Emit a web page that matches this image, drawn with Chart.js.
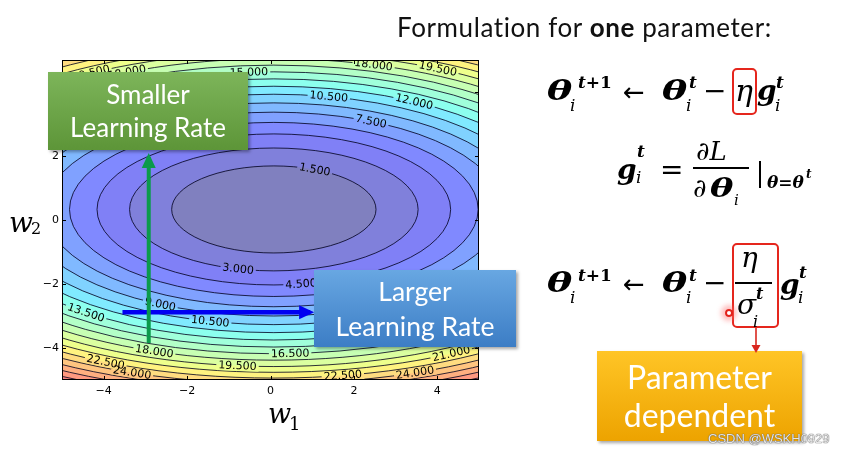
<!DOCTYPE html>
<html>
<head>
<meta charset="utf-8">
<script src="https://cdn.jsdelivr.net/npm/chart.js@4.4.0/dist/chart.umd.min.js"></script>
<style>
body { margin: 0; background: #fff; }
#wrap { position: relative; width: 845px; height: 454px; overflow: hidden; font-family: Lato, "Open Sans", sans-serif; }
canvas { position: absolute; left: 0; top: 0; }
#titulo { position: absolute; left: 397px; top: 14px; font-size: 26px; letter-spacing: 0.6px; line-height: 1; color: #111; white-space: nowrap; }
.box { position: absolute; color: #fff; display: flex; flex-direction: column; align-items: center; justify-content: center; box-shadow: 2px 2px 3px rgba(0,0,0,0.35); white-space: nowrap; }
#small { left: 48px; top: 72px; width: 200px; height: 78px; font-size: 26px; line-height: 33px; background: linear-gradient(#7db55a, #5d9538); }
#large { left: 314px; top: 270px; width: 202px; height: 77px; font-size: 26.5px; line-height: 35px; background: linear-gradient(#68a7e2, #3c7dc5); }
#param { left: 597px; top: 351px; width: 205px; height: 90px; font-size: 32px; line-height: 38px; background: linear-gradient(#ffc526, #eda300); }
.m { position: absolute; line-height: 1; white-space: nowrap; color: #000; font-family: "DejaVu Serif", serif; }
.bi { font-weight: bold; font-style: italic; }
.it { font-style: italic; }
.sy { font-family: "DejaVu Sans", sans-serif; }
.wide { transform: scaleX(1.35); transform-origin: left center; }
.rbox { position: absolute; border: 2px solid #e5261d; border-radius: 5px; box-sizing: border-box; }
.bar { position: absolute; background: #000; }
#punto { position: absolute; left: 725px; top: 309px; width: 8px; height: 8px; border: 2px solid #e3221b; border-radius: 50%; box-sizing: border-box; box-shadow: 0 0 5px 4px rgba(255,110,110,0.45); }
#marca { position: absolute; left: 708px; top: 431px; font-family: "Liberation Sans", sans-serif; font-size: 13px; line-height: 15px; color: #e6e6e6; text-shadow: 0 0 1px #555, 0 0 1px #555; white-space: nowrap; }
</style>
</head>
<body>
<div id="wrap">
  <canvas id="grafica" width="845" height="454"></canvas>
  <div id="titulo">Formulation for <b>one</b> parameter:</div>
  <div class="box" id="small"><span>Smaller</span><span>Learning Rate</span></div>
  <div class="box" id="large"><span>Larger</span><span>Learning Rate</span></div>
  <div class="box" id="param"><span>Parameter</span><span>dependent</span></div>
  <div class="rbox" style="left:732px;top:68px;width:25px;height:47px"></div>
  <div class="rbox" style="left:732px;top:243px;width:47px;height:85px"></div>
  <div class="bar" style="left:693px;top:167px;width:56px;height:1.6px"></div>
  <div class="bar" style="left:759px;top:161px;width:2px;height:27px"></div>
  <div class="bar" style="left:735px;top:282px;width:37px;height:1.6px"></div>
  <div id="punto"></div>
  <svg style="position:absolute;left:745px;top:326px" width="22" height="30">
    <line x1="11" y1="2" x2="11" y2="20" stroke="#d9271f" stroke-width="1.6"/>
    <polygon points="6.5,19 15.5,19 11,27" fill="#d9271f"/>
  </svg>
  <div id="marca">CSDN @WSKH0929</div>
</div>
<script>
// Curvas de nivel (elipses)
const LEVELS = [1.5, 3, 4.5, 6, 7.5, 9, 10.5, 12, 13.5, 15, 16.5, 18, 19.5, 21, 22.5, 24, 25.5, 27, 28.5];
const RADIUS_W1 = [2.45, 3.46, 4.24, 4.9, 5.48, 6.0, 6.48, 6.93, 7.35, 7.75, 8.12, 8.49, 8.83, 9.17, 9.49, 9.8, 10.1, 10.39, 10.68];
const RADIUS_W2 = [1.36, 1.92, 2.36, 2.72, 3.04, 3.33, 3.6, 3.85, 4.08, 4.3, 4.51, 4.71, 4.91, 5.09, 5.27, 5.44, 5.61, 5.77, 5.93];
const CENTER = [0.08, 0.33];

// Etiquetas de las curvas
const LABEL_LEVELS = [19.5, 18, 15, 18, 19.5, 10.5, 12, 7.5, 1.5, 3, 4.5, 9, 13.5, 10.5, 18, 22.5, 24, 19.5, 16.5, 21, 22.5, 24];
const LABEL_W1 = [-4.5, -3.65, -0.53, 2.5, 4.08, 1.43, 3.53, 2.48, 1.05, -0.79, 0.75, -2.72, -4.49, -1.48, -2.86, -4.03, -3.39, -0.81, 0.48, 4.46, 1.77, 3.51];
const LABEL_W2 = [4.78, 4.87, 4.72, 4.9, 4.8, 3.94, 3.78, 3.16, 1.56, -1.56, -2.06, -2.72, -2.94, -3.25, -4.22, -4.53, -4.88, -4.66, -4.28, -4.31, -4.97, -4.84];

// Flechas
const SMALL_W1 = [-2.92, -2.92];
const SMALL_W2 = [-3.84, 1.97];
const LARGE_W1 = [-3.55, 0.95];
const LARGE_W2 = [-2.88, -2.88];

const X_TICKS = [-4, -2, 0, 2, 4];
const Y_TICKS = [-4, -2, 0, 2, 4];

// colores tipo "jet" con alpha 0.5 sobre blanco
const BAND_COLORS = ['#8080bf', '#8080db', '#8080f6', '#8089ff', '#80a1ff', '#80b9ff', '#80d2ff', '#80eaff', '#8cffee', '#a0ffdb',
  '#b3ffc7', '#c7ffb3', '#dbffa0', '#eeff8c', '#fff380', '#ffdc80', '#ffc580', '#ffaf80', '#ff9980', '#f68280'];

function fmtTick(v) {
    return v < 0 ? '\u2212' + Math.abs(v) : String(v);
}

const contornos = {
    id: 'contornos',
    beforeDatasetsDraw(chart) {
        const { ctx, chartArea: a, scales: { x, y } } = chart;
        const cx = x.getPixelForValue(CENTER[0]);
        const cy = y.getPixelForValue(CENTER[1]);
        const kx = x.getPixelForValue(1) - x.getPixelForValue(0);
        const ky = y.getPixelForValue(0) - y.getPixelForValue(1);

        ctx.save();
        ctx.beginPath();
        ctx.rect(a.left, a.top, a.right - a.left, a.bottom - a.top);
        ctx.clip();

        // relleno
        ctx.fillStyle = BAND_COLORS[LEVELS.length];
        ctx.fillRect(a.left, a.top, a.right - a.left, a.bottom - a.top);
        for (let i = LEVELS.length - 1; i >= 0; i--) {
            ctx.beginPath();
            ctx.ellipse(cx, cy, RADIUS_W1[i] * kx, RADIUS_W2[i] * ky, 0, 0, Math.PI * 2);
            ctx.fillStyle = BAND_COLORS[i];
            ctx.fill();
        }

        // posiciones de las etiquetas sobre su curva
        ctx.font = '11px "DejaVu Sans"';
        const etiquetas = LABEL_LEVELS.map((lv, j) => {
            const i = LEVELS.indexOf(lv);
            const rx = RADIUS_W1[i] * kx, ry = RADIUS_W2[i] * ky;
            let dx = x.getPixelForValue(LABEL_W1[j]) - cx;
            let dy = y.getPixelForValue(LABEL_W2[j]) - cy;
            const n = Math.hypot(dx / rx, dy / ry);
            dx /= n; dy /= n;
            let ang = Math.atan2(dx / (rx * rx), -dy / (ry * ry));
            if (ang > Math.PI / 2) ang -= Math.PI;
            if (ang < -Math.PI / 2) ang += Math.PI;
            const texto = lv.toFixed(3);
            return { px: cx + dx, py: cy + dy, ang, texto, w: ctx.measureText(texto).width + 4 };
        });

        // lineas con huecos para las etiquetas
        ctx.save();
        ctx.beginPath();
        ctx.rect(a.left, a.top, a.right - a.left, a.bottom - a.top);
        etiquetas.forEach(e => {
            const c = Math.cos(e.ang), s = Math.sin(e.ang);
            const hw = e.w / 2, hh = 5;
            const pts = [[-hw, -hh], [hw, -hh], [hw, hh], [-hw, hh]].map(([u, v]) => [e.px + u * c - v * s, e.py + u * s + v * c]);
            ctx.moveTo(pts[0][0], pts[0][1]);
            for (let k = 1; k < 4; k++) ctx.lineTo(pts[k][0], pts[k][1]);
            ctx.closePath();
        });
        ctx.clip('evenodd');
        ctx.strokeStyle = 'rgba(0,0,30,0.9)';
        ctx.lineWidth = 0.9;
        for (let i = 0; i < LEVELS.length; i++) {
            ctx.beginPath();
            ctx.ellipse(cx, cy, RADIUS_W1[i] * kx, RADIUS_W2[i] * ky, 0, 0, Math.PI * 2);
            ctx.stroke();
        }
        ctx.restore();

        // textos
        ctx.fillStyle = '#000';
        ctx.textAlign = 'center';
        ctx.textBaseline = 'middle';
        etiquetas.forEach(e => {
            ctx.save();
            ctx.translate(e.px, e.py);
            ctx.rotate(e.ang);
            ctx.fillText(e.texto, 0, 0.5);
            ctx.restore();
        });
        ctx.restore();
    },
    afterDatasetsDraw(chart) {
        const { ctx, chartArea: a, scales: { x, y } } = chart;
        // puntas de flecha
        chart.data.datasets.forEach((ds, i) => {
            const pts = chart.getDatasetMeta(i).data;
            const p1 = pts[pts.length - 2], p2 = pts[pts.length - 1];
            let dx = p2.x - p1.x, dy = p2.y - p1.y;
            const n = Math.hypot(dx, dy); dx /= n; dy /= n;
            const tx = p2.x + dx * 4, ty = p2.y + dy * 4;
            const bx = tx - dx * 15, by = ty - dy * 15;
            ctx.beginPath();
            ctx.moveTo(tx, ty);
            ctx.lineTo(bx - dy * 7, by + dx * 7);
            ctx.lineTo(bx + dy * 7, by - dx * 7);
            ctx.closePath();
            ctx.fillStyle = ds.borderColor;
            ctx.fill();
        });
        // marco y ticks hacia dentro
        ctx.save();
        ctx.strokeStyle = '#000';
        ctx.lineWidth = 1;
        ctx.strokeRect(a.left + 0.5, a.top + 0.5, a.right - a.left - 1, a.bottom - a.top - 1);
        ctx.beginPath();
        X_TICKS.forEach(v => {
            const px = Math.round(x.getPixelForValue(v)) + 0.5;
            ctx.moveTo(px, a.bottom); ctx.lineTo(px, a.bottom - 4);
            ctx.moveTo(px, a.top); ctx.lineTo(px, a.top + 4);
        });
        Y_TICKS.forEach(v => {
            const py = Math.round(y.getPixelForValue(v)) + 0.5;
            ctx.moveTo(a.left, py); ctx.lineTo(a.left + 4, py);
            ctx.moveTo(a.right, py); ctx.lineTo(a.right - 4, py);
        });
        ctx.stroke();
        ctx.restore();
    }
};

const ctx = document.getElementById('grafica').getContext('2d');
window.graficaContorno = new Chart(ctx, {
    type: 'scatter',
    data: {
        datasets: [{
            label: 'Smaller Learning Rate',
            data: SMALL_W1.map((v, i) => ({ x: v, y: SMALL_W2[i] })),
            showLine: true,
            borderColor: '#0b9a4c',
            borderWidth: 4,
            pointRadius: 0,
            order: 0
        }, {
            label: 'Larger Learning Rate',
            data: LARGE_W1.map((v, i) => ({ x: v, y: LARGE_W2[i] })),
            showLine: true,
            borderColor: '#0000f2',
            borderWidth: 4.5,
            pointRadius: 0,
            order: 1
        }]
    },
    options: {
        responsive: false,
        animation: false,
        layout: { padding: { left: 0, top: 60, right: 366, bottom: 44 } },
        plugins: {
            legend: { display: false },
            tooltip: { enabled: false }
        },
        scales: {
            x: {
                type: 'linear',
                min: -5,
                max: 5,
                afterBuildTicks: s => { s.ticks = X_TICKS.map(v => ({ value: v })); },
                afterFit: s => { s.height = 30; },
                grid: { display: false, drawTicks: false },
                border: { display: false },
                ticks: { padding: 5, color: '#000', maxRotation: 0, font: { family: 'DejaVu Sans', size: 11 }, callback: fmtTick }
            },
            y: {
                type: 'linear',
                min: -5,
                max: 5,
                afterBuildTicks: s => { s.ticks = Y_TICKS.map(v => ({ value: v })); },
                afterFit: s => { s.width = 62; },
                grid: { display: false, drawTicks: false },
                border: { display: false },
                ticks: { padding: 3, color: '#000', font: { family: 'DejaVu Sans', size: 11 }, callback: fmtTick }
            }
        }
    },
    plugins: [contornos]
});

// Fórmulas de la diapositiva
const wrap = document.getElementById('wrap');
function put(html, cls, x, base, size) {
    const s = document.createElement('span');
    s.className = 'm ' + cls;
    s.innerHTML = html;
    s.style.left = x + 'px';
    s.style.top = (base - 0.846 * size) + 'px';
    s.style.fontSize = size + 'px';
    wrap.appendChild(s);
}
const TP1 = '<b><i>t</i>+1</b>';

// ejes
put('w', 'it', 268, 423, 27);
put('1', '', 289, 430, 18);
put('w', 'it', 9, 233, 28);
put('2', '', 31, 235, 16);

// theta_i^{t+1} <- theta_i^t - eta g_i^t
put('θ', 'bi wide', 547, 101, 28); put(TP1, '', 578, 88, 17); put('i', 'it', 570, 111, 17);
put('←', 'sy', 623, 101, 26);
put('θ', 'bi wide', 662, 101, 28); put('t', 'bi', 689, 88, 17); put('i', 'it', 686, 111, 17);
put('−', '', 703, 101, 28);
put('η', 'it', 735, 101, 30);
put('g', 'bi', 757, 101, 28); put('t', 'bi', 776, 88, 17); put('i', 'it', 775, 111, 17);

// g_i^t = dL/dtheta_i | theta=theta^t
put('g', 'bi', 617, 180, 28); put('t', 'bi', 637, 157, 17); put('i', 'it', 636, 183, 17);
put('=', '', 660, 180, 28);
put('∂<i>L</i>', '', 696, 160, 26);
put('∂', '', 693, 197, 26); put('θ', 'bi wide', 710, 197, 26); put('i', 'it', 734, 206, 15);
put('θ=θ', 'bi', 767, 188, 17); put('t', 'bi', 806, 178, 12);

// theta_i^{t+1} <- theta_i^t - eta/sigma_i^t g_i^t
put('θ', 'bi wide', 547, 293, 28); put(TP1, '', 578, 281, 17); put('i', 'it', 570, 303, 17);
put('←', 'sy', 623, 293, 26);
put('θ', 'bi wide', 662, 293, 28); put('t', 'bi', 689, 281, 17); put('i', 'it', 686, 303, 17);
put('−', '', 703, 293, 28);
put('η', 'it', 741, 268, 28);
put('σ', 'it', 737, 315, 28); put('t', 'bi', 756, 300, 16); put('i', 'it', 753, 328, 16);
put('g', 'bi', 780, 295, 28); put('t', 'bi', 799, 278, 17); put('i', 'it', 798, 303, 17);
</script>
</body>
</html>
